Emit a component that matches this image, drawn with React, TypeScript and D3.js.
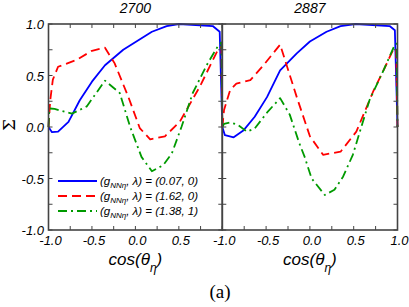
import React, { useEffect, useRef } from 'react';
import * as d3 from 'd3';

// beam asymmetry vs cos(theta_eta), two energies
const titles = ['2700', '2887'];
const xTicks = [-1, -0.75, -0.5, -0.25, 0, 0.25, 0.5, 0.75, 1];
const yTicks = [-1, -0.75, -0.5, -0.25, 0, 0.25, 0.5, 0.75, 1];
const xLabelsLeft = [-1, -0.5, 0, 0.5];
const xLabelsRight = [-1, -0.5, 0, 0.5, 1];
const yLabels = [-1, -0.5, 0, 0.5, 1];

const blue2700: [number, number][] = [
  [-1, 0], [-0.96, -0.05], [-0.89, -0.045], [-0.77, 0.05], [-0.64, 0.26], [-0.5, 0.44],
  [-0.35, 0.6], [-0.14, 0.75], [0.19, 0.925], [0.36, 0.98], [0.5, 1.0], [0.89, 0.98],
  [0.97, 0.925], [1, 0],
];
const red2700: [number, number][] = [
  [-1, 0], [-0.98, 0.26], [-0.95, 0.46], [-0.89, 0.585], [-0.68, 0.65], [-0.5, 0.74],
  [-0.35, 0.77], [-0.24, 0.62], [-0.08, 0.29], [0.05, -0.01], [0.17, -0.12], [0.34, -0.09],
  [0.51, 0.05], [0.74, 0.39], [0.95, 0.75], [0.99, 0.78], [1, 0],
];
const green2700: [number, number][] = [
  [-1, 0], [-0.99, 0.18], [-0.93, 0.175], [-0.73, 0.13], [-0.56, 0.2], [-0.35, 0.45],
  [-0.18, 0.33], [-0.06, 0.0], [0.07, -0.29], [0.19, -0.43], [0.32, -0.37], [0.42, -0.255],
  [0.53, 0.0], [0.66, 0.33], [0.82, 0.6], [0.96, 0.8], [0.99, 0.82], [1, 0],
];
const blue2887: [number, number][] = [
  [-1, 0], [-0.97, -0.08], [-0.87, -0.1], [-0.76, -0.035], [-0.63, 0.1], [-0.49, 0.29],
  [-0.34, 0.55], [-0.15, 0.715], [0.0, 0.83], [0.19, 0.925], [0.35, 0.98], [0.52, 1.0],
  [0.91, 0.98], [0.97, 0.94], [1, 0],
];
const red2887: [number, number][] = [
  [-1, 0], [-0.98, 0.165], [-0.91, 0.36], [-0.84, 0.42], [-0.68, 0.455], [-0.51, 0.62],
  [-0.34, 0.8], [-0.15, 0.29], [0.0, -0.09], [0.15, -0.27], [0.35, -0.24], [0.53, -0.045],
  [0.72, 0.34], [0.86, 0.585], [0.95, 0.75], [0.985, 0.76], [1, 0],
];
const green2887: [number, number][] = [
  [-1, 0], [-0.98, 0.03], [-0.91, 0.045], [-0.82, 0.02], [-0.72, -0.045], [-0.63, -0.015],
  [-0.48, 0.15], [-0.34, 0.28], [-0.23, 0.12], [-0.12, -0.16], [-0.06, -0.29], [0.02, -0.5],
  [0.17, -0.66], [0.28, -0.61], [0.38, -0.48], [0.49, -0.27], [0.68, 0.26], [0.84, 0.55],
  [0.97, 0.8], [0.99, 0.81], [1, 0],
];
const legendValues = ['(0.07, 0)', '(1.62, 0)', '(1.38, 1)'];

const colors = ['#0000ff', '#ff0000', '#009a00'];
const dashes = ['none', '9,5', '9,4,2,4'];

export default function App() {
  const ref = useRef<SVGSVGElement>(null);

  useEffect(() => {
    const width = 409;
    const height = 307;
    const svg = d3.select(ref.current);
    svg.selectAll('*').remove();
    svg.attr('width', width).attr('height', height);

    const font = "'Liberation Sans', Arial, sans-serif";
    const axisColor = '#444';
    const top = 24;
    const bottom = 230;
    const panels = [
      { left: 48.5, right: 222.3, series: [blue2700, red2700, green2700], labels: xLabelsLeft },
      { left: 222.3, right: 397.5, series: [blue2887, red2887, green2887], labels: xLabelsRight },
    ];
    const y = d3.scaleLinear().domain([-1, 1]).range([bottom, top]);

    panels.forEach((p, i) => {
      const x = d3.scaleLinear().domain([-1, 1]).range([p.left, p.right]);
      const g = svg.append('g');

      // curves first, frame on top
      const line = d3.line<[number, number]>()
        .x(d => x(d[0]))
        .y(d => y(d[1]));
      p.series.forEach((s, k) => {
        g.append('path')
          .attr('d', line(s))
          .attr('fill', 'none')
          .attr('stroke', colors[k])
          .attr('stroke-width', 1.8)
          .attr('stroke-dasharray', dashes[k])
          .attr('stroke-linejoin', 'round');
      });

      // ticks, pointing inward
      const tl = 4;
      xTicks.forEach(t => {
        g.append('line').attr('x1', x(t)).attr('x2', x(t)).attr('y1', top).attr('y2', top + tl)
          .attr('stroke', axisColor).attr('stroke-width', 1);
        g.append('line').attr('x1', x(t)).attr('x2', x(t)).attr('y1', bottom).attr('y2', bottom - tl)
          .attr('stroke', axisColor).attr('stroke-width', 1);
      });
      yTicks.forEach(t => {
        g.append('line').attr('x1', p.left).attr('x2', p.left + tl).attr('y1', y(t)).attr('y2', y(t))
          .attr('stroke', axisColor).attr('stroke-width', 1);
        g.append('line').attr('x1', p.right).attr('x2', p.right - tl).attr('y1', y(t)).attr('y2', y(t))
          .attr('stroke', axisColor).attr('stroke-width', 1);
      });

      g.append('rect')
        .attr('x', p.left).attr('y', top)
        .attr('width', p.right - p.left).attr('height', bottom - top)
        .attr('fill', 'none').attr('stroke', axisColor).attr('stroke-width', 1.6);

      // x tick labels
      p.labels.forEach(t => {
        g.append('text')
          .attr('x', x(t) + 2).attr('y', 245)
          .attr('text-anchor', 'middle')
          .style('font-family', font).style('font-style', 'italic').style('font-size', '13px')
          .text(d3.format('.1f')(t).replace('−', '-'));
      });

      // title
      g.append('text')
        .attr('x', (p.left + p.right) / 2).attr('y', 13)
        .attr('text-anchor', 'middle')
        .style('font-family', font).style('font-style', 'italic').style('font-size', '14px')
        .text(titles[i]);

      // x axis title cos(theta_eta)
      const xt = g.append('text')
        .attr('x', (p.left + p.right) / 2).attr('y', 265)
        .attr('text-anchor', 'middle')
        .style('font-family', font).style('font-style', 'italic').style('font-size', '17px');
      xt.append('tspan').text('cos(θ');
      xt.append('tspan').attr('dy', 7).style('font-size', '12px').text('η');
      xt.append('tspan').attr('dy', -7).text(')');
    });

    // y tick labels
    yLabels.forEach(t => {
      svg.append('text')
        .attr('x', 44).attr('y', y(t) + 5)
        .attr('text-anchor', 'end')
        .style('font-family', font).style('font-style', 'italic').style('font-size', '13px')
        .text(d3.format('.1f')(t).replace('−', '-'));
    });

    // y axis title
    svg.append('text')
      .attr('transform', `translate(15,${y(0) - 2}) rotate(-90)`)
      .attr('text-anchor', 'middle')
      .style('font-family', "'DejaVu Serif', serif").style('font-size', '17px')
      .text('Σ');

    // legend
    const legX = 58;
    const legY = [181, 196, 211];
    legendValues.forEach((v, k) => {
      svg.append('line')
        .attr('x1', legX).attr('x2', legX + 39)
        .attr('y1', legY[k]).attr('y2', legY[k])
        .attr('stroke', colors[k]).attr('stroke-width', 1.8)
        .attr('stroke-dasharray', dashes[k]);
      const t = svg.append('text')
        .attr('x', legX + 42).attr('y', legY[k] + 4)
        .style('font-family', font).style('font-style', 'italic').style('font-size', '11.5px');
      t.append('tspan').text('(g');
      t.append('tspan').attr('dy', 3).style('font-size', '8px').text('NNη');
      t.append('tspan').attr('dy', -3).text(`, λ) = ${v}`);
    });

    // panel tag
    svg.append('text')
      .attr('x', 220).attr('y', 298)
      .attr('text-anchor', 'middle')
      .style('font-family', "'Liberation Serif', 'Times New Roman', serif").style('font-size', '19px')
      .text('(a)');
  }, []);

  return (
    <svg ref={ref} style={{ position: 'absolute', left: 0, top: 0, background: '#fff' }} />
  );
}
